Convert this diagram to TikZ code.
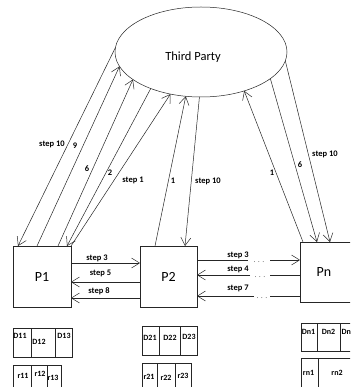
\documentclass[tikz,border=0pt]{standalone}
\usepackage{fontspec}
\setmainfont{Carlito}
\usetikzlibrary{arrows.meta,shapes.geometric}
\begin{document}
\begin{tikzpicture}[x=1pt,y=-1pt,
  ln/.style={draw=black!85, line width=0.5pt},
  arr/.style={ln,-{Straight Barb[length=8pt,width=10pt]}},
  pbox/.style={draw=black!85, line width=0.5pt, rectangle, inner sep=0pt, outer sep=0pt, font=\fontsize{14}{16}\selectfont},
  lab/.style={font=\bfseries\fontsize{8.5}{10}\selectfont, inner sep=0pt},
  cell/.style={font=\bfseries\fontsize{8}{9}\selectfont, inner sep=0pt},
  dotsty/.style={font=\fontsize{8}{9}\selectfont, text=black!60, inner sep=0pt, anchor=base}
]
\useasboundingbox (0,0) rectangle (350,387);
\clip (0,0) rectangle (350,387);
\fill[white] (0,0) rectangle (350,387);

% third party
\node[ellipse, draw=black!85, line width=0.5pt, minimum width=172pt, minimum height=90pt, inner sep=0pt, outer sep=0pt] (TP) at (201,52) {};
\node[font=\fontsize{12.5}{14}\selectfont, inner sep=0pt] (TPt) at (193,57) {Third Party};

% parties
\node[pbox, minimum width=58pt, minimum height=61pt] (P1) at (42,276.5) {P1};
\node[pbox, minimum width=57pt, minimum height=61pt] (P2) at (168.5,276.5) {P2};
\node[pbox, minimum width=60pt, minimum height=60pt] (Pn) at (330,272) {\hspace*{-12pt}Pn};

% P1 <-> third party
\draw[arr] (TP.177.3) -- ([xshift=5pt]P1.north west);
\draw[arr] ([xshift=24pt]P1.north west) -- (TP.190.4);
\draw[arr] ([xshift=45pt]P1.north west) -- (TP.202.4);
\draw[arr] (TP.216.3) -- ([xshift=54pt]P1.north west);
\draw[arr] (P1.north east) -- (TP.234.2);
\node[lab] (l10a) at (52,144) {step 10};
\node[lab] (l9) at (75,146) {9};
\node[lab] (l6) at (87,169) {6};
\node[lab] (l2) at (110,173) {2};
\node[lab] (l1a) at (133,180) {step 1};

% P2 <-> third party
\draw[arr] ([xshift=15pt]P2.north west) -- (TP.251.2);
\draw[arr] (TP.268.7) -- ([xshift=45pt]P2.north west);
\node[lab] (l1b) at (173,181) {1};
\node[lab] (l10b) at (208,181) {step 10};

% Pn <-> third party
\draw[arr] ([xshift=3pt]Pn.north west) -- (TP.318.5);
\draw[arr] (TP.339.6) -- ([xshift=17pt]Pn.north west);
\draw[arr] (TP.354.6) -- ([xshift=30pt]Pn.north west);
\node[lab] (l1c) at (272,173) {1};
\node[lab] (l6c) at (300,165) {6};
\node[lab] (l10c) at (325,154) {step 10};

% P1 <-> P2
\draw[arr] ([yshift=-17pt]P1.north east) -- ([yshift=-17pt]P2.north west);
\draw[arr] ([yshift=-36pt]P2.north west) -- ([yshift=-36pt]P1.north east);
\draw[arr] ([yshift=-52pt]P2.north west) -- ([yshift=-52pt]P1.north east);
\node[lab] (s3a) at (97,258) {step 3};
\node[lab] (s5) at (100.5,273) {step 5};
\node[lab] (s8) at (99,291) {step 8};

% P2 <-> Pn
\coordinate (a3) at (248,260); \coordinate (b3) at (270,260);
\coordinate (a4) at (250,275); \coordinate (b4) at (270,275);
\coordinate (a7) at (254,296); \coordinate (b7) at (270,296);
\draw[ln] ([yshift=-14pt]P2.north east) -- (a3);
\draw[arr] (b3) -- ([yshift=-18pt]Pn.north west);
\draw[ln] ([yshift=-33pt]Pn.north west) -- (b4);
\draw[arr] (a4) -- ([yshift=-29pt]P2.north east);
\draw[ln] ([yshift=-54pt]Pn.north west) -- (b7);
\draw[arr] (a7) -- ([yshift=-50pt]P2.north east);
\node[dotsty] (d3) at (259,262) {. . .};
\node[dotsty] (d4) at (260,277) {. . .};
\node[dotsty] (d7) at (262,298) {. . .};
\node[lab] (s3b) at (238,255) {step 3};
\node[lab] (s4) at (238,269) {step 4};
\node[lab] (s7) at (238,288) {step 7};

% tables P1
\draw[ln] (13,328) rectangle (72,357);
\draw[ln] (31,328) -- (31,357) (55,328) -- (55,357);
\node[cell] (D11) at (20,336) {D11};
\node[cell] (D12) at (39,342) {D12};
\node[cell] (D13) at (64,336) {D13};
\draw[ln] (13,392) -- (13,365) -- (61,365) -- (61,392);
\draw[ln] (31,365) -- (31,392) (47,365) -- (47,392);
\node[cell] (r11) at (23,376) {r11};
\node[cell] (r12) at (40,374) {r12};
\node[cell] (r13) at (53,378) {r13};

% tables P2
\draw[ln] (142,326) rectangle (197,355);
\draw[ln] (159,326) -- (159,355) (180,326) -- (180,355);
\node[cell] (D21) at (150,338) {D21};
\node[cell] (D22) at (170,338) {D22};
\node[cell] (D23) at (189,337) {D23};
\draw[ln] (142,392) -- (142,363) -- (191,363) -- (191,392);
\draw[ln] (157,363) -- (157,392) (175,363) -- (175,392);
\node[cell] (r21) at (149,377) {r21};
\node[cell] (r22) at (166,378) {r22};
\node[cell] (r23) at (183,376) {r23};

% tables Pn
\draw[ln] (360,323) -- (301,323) -- (301,351) -- (360,351);
\draw[ln] (317,323) -- (317,351) (340,323) -- (340,351);
\node[cell] (Dn1) at (308.5,332) {Dn1};
\node[cell] (Dn2) at (328.5,332) {Dn2};
\node[cell, anchor=west] (Dn3) at (341.5,332) {Dn};
\draw[ln] (360,358) -- (301,358) -- (301,392);
\draw[ln] (318,358) -- (318,392);
\node[cell] (rn1) at (308.5,373) {rn1};
\node[cell] (rn2) at (337,373) {rn2};
\end{tikzpicture}
\end{document}
